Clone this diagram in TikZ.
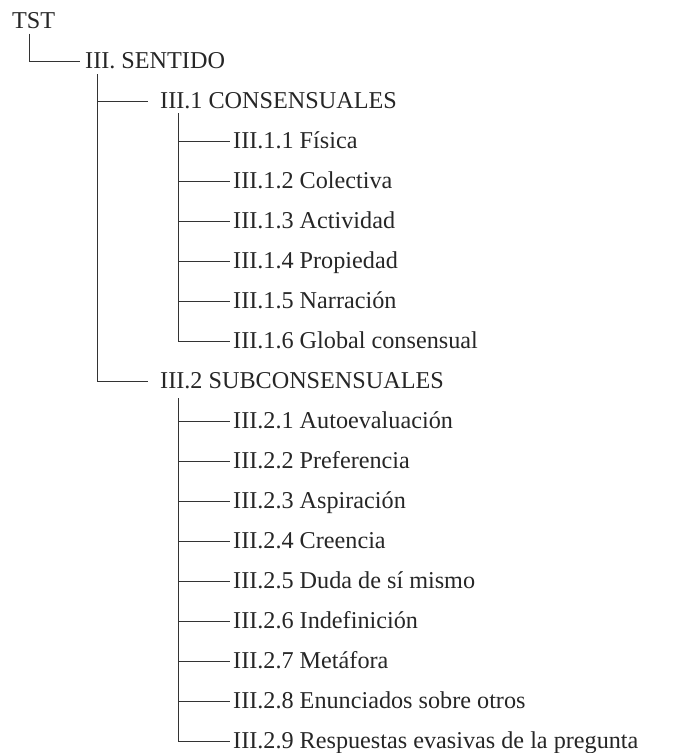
\documentclass[tikz,border=0pt]{standalone}
\usepackage{fontspec}
\setmainfont{Liberation Serif}
\begin{document}
\begin{tikzpicture}[x=1pt,y=-1pt,
  lbl/.style={anchor=west, inner ysep=0pt, text height=15.8pt, text depth=0pt,
    font=\fontsize{24.2}{28}\selectfont, text=black!85},
  lvlone/.style={lbl, inner xsep=5pt},
  lvltwo/.style={lbl, inner xsep=12pt},
  lvlthree/.style={lbl, inner xsep=3pt},
  conn/.style={draw=black!80, line width=0.9pt}]
\useasboundingbox (0,0) rectangle (673,753);

\node[lbl, inner xsep=0pt] (tst) at (12,20.5) {TST};
\node[lvlone] (sent) at (80,61) {III. SENTIDO};
\node[lvltwo] (cons) at (148,101) {III.1 CONSENSUALES};
\node[lvltwo] (subc) at (148,381) {III.2 SUBCONSENSUALES};

\foreach \t [count=\i] in {III.1.1 Física, III.1.2 Colectiva, III.1.3 Actividad,
  III.1.4 Propiedad, III.1.5 Narración, III.1.6 Global consensual}
  \node[lvlthree] (c\i) at (230,{101+40*\i}) {\t};

\foreach \t [count=\i] in {III.2.1 Autoevaluación, III.2.2 Preferencia, III.2.3 Aspiración,
  III.2.4 Creencia, III.2.5 Duda de sí mismo, III.2.6 Indefinición, III.2.7 Metáfora,
  III.2.8 Enunciados sobre otros, III.2.9 Respuestas evasivas de la pregunta}
  \node[lvlthree] (s\i) at (230,{381+40*\i}) {\t};

\coordinate (vtst) at ([xshift=17.5pt,yshift=-5pt]tst.south west);
\coordinate (vsent) at ([xshift=17pt,yshift=-5pt]sent.south west);
\coordinate (vcons) at ([xshift=30pt,yshift=-4pt]cons.south west);
\coordinate (vsubc) at ([xshift=30pt,yshift=-9pt]subc.south west);

\draw[conn] (vtst) |- (sent.west);
\draw[conn] (vsent) |- (cons.west);
\draw[conn] (vsent) |- (subc.west);
\foreach \i in {1,...,6} \draw[conn] (vcons) |- (c\i.west);
\foreach \i in {1,...,9} \draw[conn] (vsubc) |- (s\i.west);
\end{tikzpicture}
\end{document}
